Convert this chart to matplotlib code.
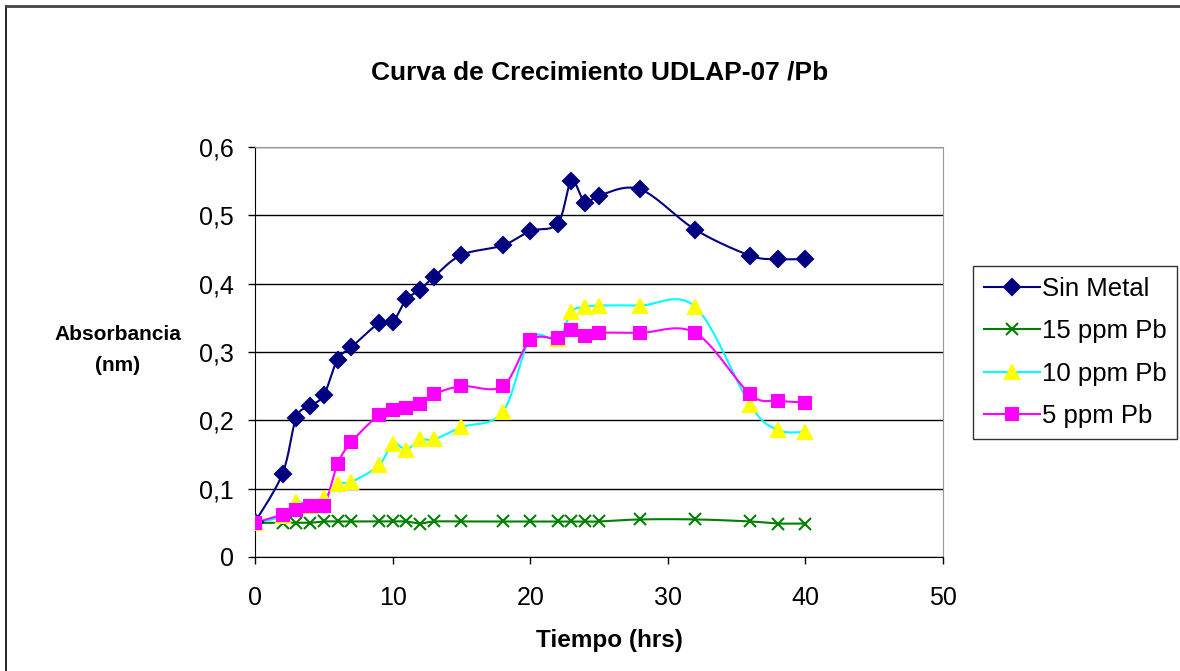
import numpy as np
import matplotlib
matplotlib.use("Agg")
import matplotlib.pyplot as plt
from matplotlib.lines import Line2D
from matplotlib.ticker import FuncFormatter

plt.rcParams['font.family'] = ['Liberation Sans', 'DejaVu Sans']

# data
t_sin = [0, 2, 3, 4, 5, 6, 7, 9, 10, 11, 12, 13, 15, 18, 20, 22, 23, 24, 25, 28, 32, 36, 38, 40]
sin_metal = [0.051, 0.122, 0.204, 0.221, 0.237, 0.289, 0.307, 0.342, 0.344, 0.377, 0.391, 0.410,
             0.442, 0.456, 0.477, 0.488, 0.550, 0.518, 0.529, 0.538, 0.479, 0.441, 0.436, 0.436]
t_pb = [0, 2, 3, 4, 5, 6, 7, 9, 10, 11, 12, 13, 15, 18, 20, 22, 23, 24, 25, 28, 32, 36, 38, 40]
pb15 = [0.050, 0.050, 0.050, 0.050, 0.052, 0.052, 0.052, 0.052, 0.052, 0.052, 0.049, 0.052,
        0.052, 0.052, 0.052, 0.052, 0.052, 0.052, 0.052, 0.055, 0.055, 0.052, 0.049, 0.049]
pb10 = [0.050, 0.060, 0.081, 0.075, 0.086, 0.107, 0.110, 0.134, 0.166, 0.157, 0.172, 0.172,
        0.190, 0.212, 0.319, 0.319, 0.359, 0.366, 0.368, 0.368, 0.366, 0.222, 0.186, 0.183]
pb5 = [0.050, 0.062, 0.069, 0.074, 0.074, 0.136, 0.168, 0.208, 0.215, 0.218, 0.224, 0.238,
       0.250, 0.250, 0.317, 0.320, 0.332, 0.323, 0.328, 0.328, 0.328, 0.238, 0.229, 0.226]

labels = ["Sin Metal", "15 ppm Pb", "10 ppm Pb", "5 ppm Pb"]


def smooth(x, y, n=20):
    # Excel-like smoothed line (Catmull-Rom bezier)
    x = np.asarray(x, float)
    y = np.asarray(y, float)
    px = np.concatenate([[x[0]], x, [x[-1]]])
    py = np.concatenate([[y[0]], y, [y[-1]]])
    xs, ys = [], []
    s = np.linspace(0, 1, n)
    for i in range(1, len(px) - 2):
        p0 = np.array([px[i], py[i]])
        p3 = np.array([px[i + 1], py[i + 1]])
        c1 = p0 + (np.array([px[i + 1], py[i + 1]]) - np.array([px[i - 1], py[i - 1]])) / 6
        c2 = p3 - (np.array([px[i + 2], py[i + 2]]) - np.array([px[i], py[i]])) / 6
        b = ((1 - s) ** 3)[:, None] * p0 + (3 * (1 - s) ** 2 * s)[:, None] * c1 \
            + (3 * (1 - s) * s ** 2)[:, None] * c2 + (s ** 3)[:, None] * p3
        xs.extend(b[:, 0])
        ys.extend(b[:, 1])
    return xs, ys


fig = plt.figure(figsize=(11.8, 6.71), dpi=100)
ax = fig.add_axes([255 / 1180, 1 - 557 / 671, 688 / 1180, 410 / 671])

series = [
    (t_sin, sin_metal, "#000080", "D", "#000080", "#000080", 8),
    (t_pb, pb15, "#008000", "x", "#008000", "#008000", 9),
    (t_pb, pb10, "#00ffff", "^", "#ffff00", "#ffff00", 10),
    (t_pb, pb5, "#ff00ff", "s", "#ff00ff", "#ff00ff", 9),
]
handles = []
for (tx, ty, lc, mk, mfc, mec, ms), lab in zip(series, labels):
    sx, sy = smooth(tx, ty)
    ax.plot(sx, sy, color=lc, lw=1.5, zorder=3)
    ax.plot(tx, ty, ls="none", marker=mk, ms=ms, mfc=mfc, mec=mec, mew=1.5, zorder=4)
    handles.append(Line2D([], [], color=lc, lw=1.5, marker=mk, ms=ms, mfc=mfc, mec=mec, mew=1.5))

ax.set_xlim(0, 50)
ax.set_ylim(0, 0.6)
ax.set_xticks(range(0, 51, 10))
ax.set_yticks(np.arange(0, 0.61, 0.1))
ax.yaxis.set_major_formatter(FuncFormatter(lambda v, p: "0" if abs(v) < 1e-9 else f"{v:.1f}".replace(".", ",")))
ax.grid(axis="y", color="black", lw=1)
ax.set_axisbelow(True)
ax.tick_params(direction="out", length=5, labelsize=18, width=1)
ax.tick_params(axis="y", pad=10)
ax.tick_params(axis="x", pad=16)
ax.spines["top"].set_color("#999999")
ax.spines["right"].set_color("#999999")
for sp in ["left", "bottom"]:
    ax.spines[sp].set_color("black")

fig.text(0.508, 1 - 72 / 671, "Curva de Crecimiento UDLAP-07 /Pb", ha="center", va="center",
         fontsize=19, fontweight="bold")
fig.text(609.5 / 1180, 1 - 641 / 671, "Tiempo (hrs)", ha="center", va="center", fontsize=17.5, fontweight="bold")
fig.text(118 / 1180, 1 - 350 / 671, "Absorbancia\n(nm)", ha="center", va="center", fontsize=15,
         fontweight="bold", linespacing=1.75)

leg = fig.legend(handles, labels, loc="upper left", bbox_to_anchor=(973 / 1180, 1 - 266 / 671),
                 fontsize=18.5, frameon=True, fancybox=False, edgecolor="black", handlelength=2.2,
                 handletextpad=0.05, labelspacing=0.72, borderpad=0.42, borderaxespad=0)
leg.get_frame().set_linewidth(1)

fig.add_artist(Line2D([6 / 1180, 6 / 1180], [0, 1 - 6 / 671], color="black", lw=1.2))
fig.add_artist(Line2D([6 / 1180, 1], [1 - 6 / 671, 1 - 6 / 671], color="#444444", lw=2))

fig.savefig("out.png", dpi=100)
